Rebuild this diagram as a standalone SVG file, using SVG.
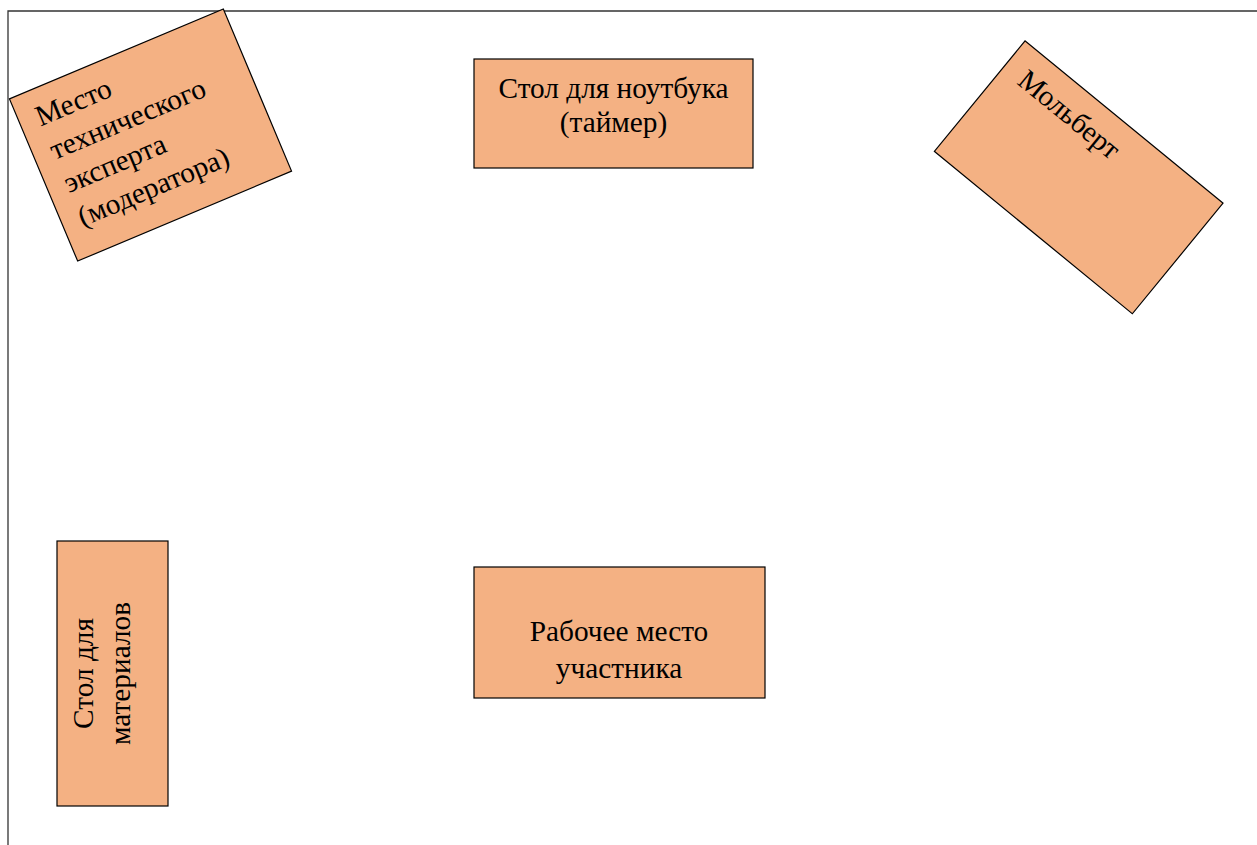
<svg xmlns="http://www.w3.org/2000/svg" width="1257" height="845" viewBox="0 0 1257 845">
<style>
.box{fill:#F4B183;stroke:#000;stroke-width:1.2}
.t{font-family:"Liberation Serif","Times New Roman",serif;font-size:29.3px;fill:#000}
.m{text-anchor:middle}
.wall{fill:none;stroke:#333;stroke-width:1.3}
</style>
<rect width="1257" height="845" fill="#fff"/>
<g id="walls"><path class="wall" d="M8,845 V11 H1257"/></g>
<g id="expert" transform="translate(150.5,135) rotate(-22.8)">
<rect class="box" x="-116" y="-88" width="232" height="176"/>
<text class="t" x="-98" y="-50.5">Место</text>
<text class="t" x="-98" y="-14">технического</text>
<text class="t" x="-98" y="22">эксперта</text>
<text class="t" x="-98" y="58.5">(модератора)</text>
</g>
<g id="laptop">
<rect class="box" x="474" y="59" width="279" height="109"/>
<text class="t m" x="613.5" y="98">Стол для ноутбука</text>
<text class="t m" x="613.5" y="132">(таймер)</text>
</g>
<g id="easel" transform="translate(1078.7,177.3) rotate(39.35)">
<rect class="box" x="-128" y="-71.5" width="256" height="143"/>
<text class="t m" x="-47" y="-33">Мольберт</text>
</g>
<g id="materials">
<rect class="box" x="57" y="541" width="111" height="265"/>
<g transform="translate(112.5,673.5) rotate(-90)">
<text class="t m" x="0" y="-19.5">Стол для</text>
<text class="t m" x="0" y="17.5">материалов</text>
</g>
</g>
<g id="workplace">
<rect class="box" x="474" y="567" width="291" height="131"/>
<text class="t m" x="619" y="641">Рабочее место</text>
<text class="t m" x="619" y="678">участника</text>
</g>
<g id="connectors"></g>
</svg>
